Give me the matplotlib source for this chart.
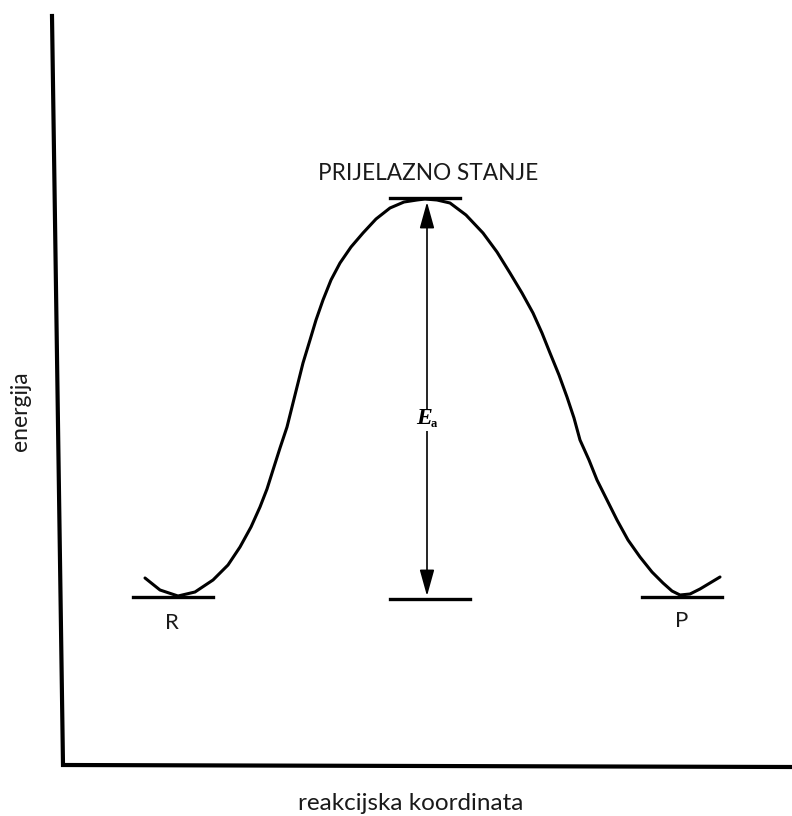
import numpy as np
import matplotlib.pyplot as plt

# reaction profile (x = reaction coordinate, y = drawn height, px from top)
curve_x = [145, 160, 178, 195, 213, 228, 240, 251, 260, 267, 273, 280, 287, 292, 297, 303,
           310, 316, 323, 331, 340, 351, 363, 376, 390, 404, 417, 425, 437, 450, 466, 483,
           497, 510, 522, 533, 542, 550, 559, 567, 574, 580, 589, 597, 607, 617, 628, 640,
           652, 663, 672, 680, 690, 700, 710, 720]
curve_y = [578, 590, 596, 592, 580, 565, 547, 527, 507, 489, 470, 448, 427, 407, 387, 363,
           340, 320, 300, 280, 263, 247, 233, 219, 208, 202, 200, 199, 200, 203, 215, 233,
           252, 273, 293, 313, 333, 353, 375, 397, 418, 440, 460, 480, 500, 520, 540, 557,
           572, 583, 591, 595, 594, 589, 583, 577]

# short level marks (x start, x end, y)
levels = [(133, 213, 597), (390, 470, 599), (642, 722, 597), (390, 460, 198)]

axis_x = [52, 63, 792]
axis_y = [16, 765, 767]

ea_x = 427
ea_top, ea_bottom = 202, 596

fig = plt.figure(figsize=(7.92, 8.16), dpi=100)
ax = fig.add_axes([0, 0, 1, 1])
ax.set_xlim(0, 792)
ax.set_ylim(816, 0)
ax.axis('off')

# axes drawn by hand (the original is a sketch)
ax.plot(axis_x, axis_y, color='black', lw=3.0, solid_joinstyle='miter')

ax.plot(curve_x, curve_y, color='black', lw=2.2, solid_joinstyle='round', solid_capstyle='round')

for x0, x1, y in levels:
    ax.plot([x0, x1], [y, y], color='black', lw=2.4)

# activation energy arrow
ax.annotate('', xy=(ea_x, ea_top), xytext=(ea_x, ea_bottom),
            arrowprops=dict(arrowstyle='<|-|>,head_length=0.9,head_width=0.25', color='black',
                            lw=1.2, mutation_scale=18, shrinkA=0, shrinkB=0))
# white patch breaks the arrow where the label sits
ax.text(ea_x, 420, '    ', ha='center', va='center', fontsize=16,
        bbox=dict(facecolor='white', edgecolor='none', pad=1))
ax.text(ea_x - 3, 418, 'E', ha='center', va='center', fontsize=17,
        fontfamily='Liberation Serif', fontweight='bold', fontstyle='italic')
ax.text(ea_x + 7, 424, 'a', ha='center', va='center', fontsize=9,
        fontfamily='Liberation Serif', fontweight='bold')

txt = dict(fontfamily='Lato', color='#1a1a1a')
ax.text(428, 174, 'PRIJELAZNO STANJE', ha='center', va='center', fontsize=16.3, **txt)
ax.text(172, 623, 'R', ha='center', va='center', fontsize=16, **txt)
ax.text(682, 621, 'P', ha='center', va='center', fontsize=16, **txt)
ax.text(20, 411, 'energija', ha='center', va='center', rotation=90, fontsize=16.5, **txt)
ax.text(411, 804, 'reakcijska koordinata', ha='center', va='center', fontsize=17.5, **txt)

fig.savefig('out.png', dpi=100)
